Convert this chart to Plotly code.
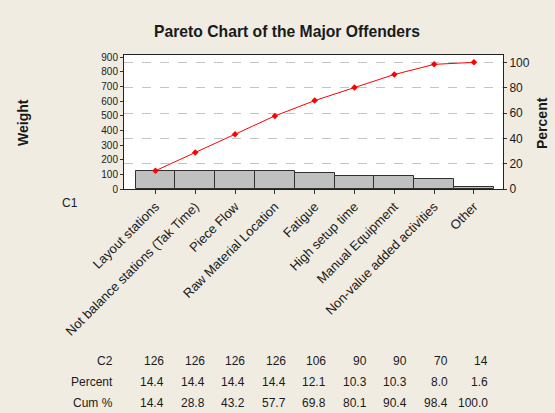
import plotly.graph_objects as go

categories = ["Layout stations", "Not balance stations (Tak Time)", "Piece Flow",
              "Raw Material Location", "Fatigue", "High setup time",
              "Manual Equipment", "Non-value added activities", "Other"]
counts = [126, 126, 126, 126, 106, 90, 90, 70, 14]
percent = [14.4, 14.4, 14.4, 14.4, 12.1, 10.3, 10.3, 8.0, 1.6]
cum_pct = [14.4, 28.8, 43.2, 57.7, 69.8, 80.1, 90.4, 98.4, 100.0]
left_ticks = [0, 100, 200, 300, 400, 500, 600, 700, 800, 900]
right_ticks = [0, 20, 40, 60, 80, 100]

W, H = 555, 413
L, R, T, B = 124, 503, 55, 189
FONT = "Liberation Sans"
TXT = "#1a1a1a"
BG = "#F0ECE2"


def px(xp):
    return (xp - L) / (R - L)


def py(yp):
    return (B - yp) / (B - T)


x = list(range(len(categories)))

fig = go.Figure()
fig.add_trace(go.Bar(x=x, y=counts, width=1.0, marker=dict(color="#C0C0C0",
                     line=dict(color="#303030", width=1)), yaxis="y", showlegend=False))
fig.add_trace(go.Scatter(x=x, y=cum_pct, yaxis="y2", mode="lines+markers",
                         line=dict(color="#FF0000", width=1),
                         marker=dict(symbol="diamond", size=5, color="#FF0000"),
                         showlegend=False))

fig.update_layout(
    width=W, height=H,
    margin=dict(l=L, r=W - R, t=T, b=H - B, autoexpand=False),
    paper_bgcolor=BG, plot_bgcolor="white",
    font=dict(family=FONT, color=TXT, size=10),
    bargap=0,
    xaxis=dict(range=[-0.79, 8.73], tickmode="array", tickvals=x, ticktext=categories,
               tickangle=-45, ticks="outside", ticklen=4, tickcolor="#333",
               tickfont=dict(size=13, family=FONT, color=TXT),
               showline=True, linecolor="#222", linewidth=1, mirror=True,
               showgrid=False, zeroline=False, automargin=False),
    yaxis=dict(range=[0, 914], tickmode="array", tickvals=left_ticks,
               ticks="outside", ticklen=3, tickcolor="#333",
               tickfont=dict(size=10, family=FONT, color=TXT),
               showline=True, linecolor="#222", linewidth=1, mirror=True,
               showgrid=False, zeroline=False, automargin=False),
    yaxis2=dict(range=[0, 105.8], overlaying="y", side="right", tickmode="array",
                tickvals=right_ticks, ticks="outside", ticklen=3, tickcolor="#333",
                tickfont=dict(size=12, family=FONT, color=TXT),
                showgrid=True, gridcolor="#C4C4C4", griddash="dash", gridwidth=1,
                showline=False, zeroline=False, automargin=False),
    title=dict(text="<b>Pareto Chart of the Major Offenders</b>", x=287 / W, xanchor="center",
               y=1 - 32 / H, yanchor="middle", font=dict(size=15.7, family=FONT, color=TXT)),
)

ann = []
ann.append(dict(text="<b>Weight</b>", x=px(23), y=py(123), xref="paper", yref="paper",
                xanchor="center", yanchor="middle",
                textangle=-90, showarrow=False, font=dict(size=14, family=FONT, color=TXT)))
ann.append(dict(text="<b>Percent</b>", x=px(542), y=py(123), xref="paper", yref="paper",
                xanchor="center", yanchor="middle",
                textangle=-90, showarrow=False, font=dict(size=14, family=FONT, color=TXT)))
ann.append(dict(text="C1", x=px(70), y=py(203), xref="paper", yref="paper",
                xanchor="center", yanchor="middle",
                showarrow=False, font=dict(size=12, family=FONT, color=TXT)))

rows = [("C2", [str(v) for v in counts], 361),
        ("Percent", [f"{v:.1f}" for v in percent], 382),
        ("Cum %", [f"{v:.1f}" for v in cum_pct], 403)]
for label, vals, ypx in rows:
    ann.append(dict(text=label, x=px(115), y=py(ypx), xref="paper", yref="paper",
                    xanchor="right", yanchor="middle", showarrow=False,
                    font=dict(size=12, family=FONT, color=TXT)))
    for i, v in enumerate(vals):
        ann.append(dict(text=v, x=px(166 + 40.5 * i), y=py(ypx), xref="paper", yref="paper",
                        xanchor="right", yanchor="middle", showarrow=False,
                        font=dict(size=12, family=FONT, color=TXT)))
fig.update_layout(annotations=ann)

fig.write_html("out.html", config={"displayModeBar": False},
               post_script="document.body.style.margin='0px';")
